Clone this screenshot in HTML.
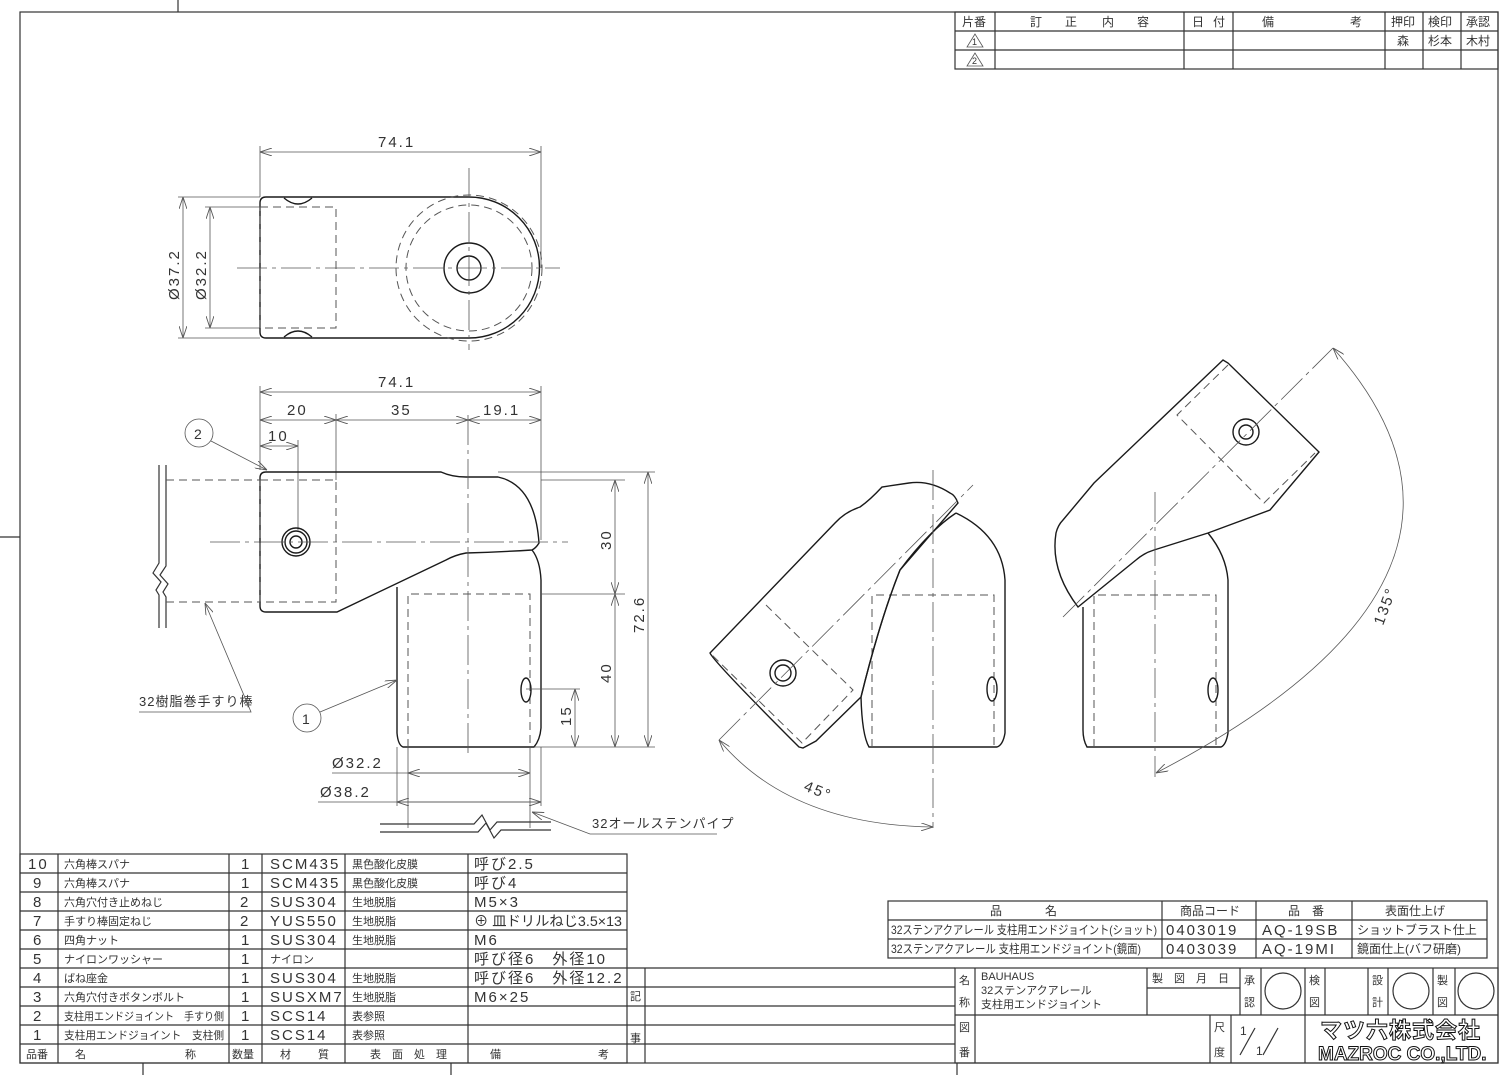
<!DOCTYPE html>
<html><head><meta charset="utf-8"><style>
html,body{margin:0;padding:0;background:#fff;}
svg{display:block;}
text{font-family:"Liberation Sans","Noto Sans CJK JP",sans-serif;fill:#333;}
.o{fill:none;stroke:#1a1a1a;stroke-width:1.4;}
.t{fill:none;stroke:#333;stroke-width:1.2;}
.d{fill:none;stroke:#555;stroke-width:0.8;}
.h{fill:none;stroke:#555;stroke-width:1;stroke-dasharray:8 5;}
.c{fill:none;stroke:#555;stroke-width:0.8;stroke-dasharray:30 5 4 5;}
.n{font-size:15px;letter-spacing:2px;}
.j{font-size:12px;}
</style></head><body>
<svg width="1500" height="1075" viewBox="0 0 1500 1075" xmlns="http://www.w3.org/2000/svg">
<defs>
<marker id="a" viewBox="0 0 12 8" refX="12" refY="4" markerWidth="12" markerHeight="8" orient="auto-start-reverse" markerUnits="userSpaceOnUse"><path d="M0,0 L12,4 L0,8" fill="none" stroke="#555" stroke-width="0.9"/></marker>
</defs>
<!-- frame -->
<rect x="20" y="12" width="1478" height="1051" class="t"/>
<line x1="178" y1="0" x2="178" y2="12" class="t"/>
<line x1="0" y1="537" x2="20" y2="537" class="t"/>
<line x1="143" y1="1063" x2="143" y2="1075" class="t"/>
<line x1="451" y1="1063" x2="451" y2="1075" class="t"/>
<line x1="957" y1="1063" x2="957" y2="1075" class="t"/>

<!-- revision table -->
<g class="t">
<rect x="955" y="12" width="543" height="57"/>
<line x1="955" y1="31" x2="1498" y2="31"/><line x1="955" y1="50" x2="1498" y2="50"/>
<line x1="995" y1="12" x2="995" y2="69"/><line x1="1184" y1="12" x2="1184" y2="69"/>
<line x1="1233" y1="12" x2="1233" y2="69"/><line x1="1385" y1="12" x2="1385" y2="69"/>
<line x1="1423" y1="12" x2="1423" y2="69"/><line x1="1461" y1="12" x2="1461" y2="69"/>
</g>
<g class="j">
<text x="962" y="26">片番</text>
<text x="1030" y="26">訂</text><text x="1065" y="26">正</text><text x="1102" y="26">内</text><text x="1137" y="26">容</text>
<text x="1192" y="26">日</text><text x="1213" y="26">付</text>
<text x="1262" y="26">備</text><text x="1350" y="26">考</text>
<text x="1391" y="26">押印</text><text x="1428" y="26">検印</text><text x="1466" y="26">承認</text>
<text x="1397" y="45">森</text><text x="1428" y="45">杉本</text><text x="1466" y="45">木村</text>
</g>
<path d="M975,34 L967,47 L983,47 Z" class="d"/><text x="972" y="45" font-size="9">1</text>
<path d="M975,53 L967,66 L983,66 Z" class="d"/><text x="972" y="64" font-size="9">2</text>

<!-- TOP VIEW -->
<g>
<line x1="260" y1="152" x2="541" y2="152" class="d" marker-start="url(#a)" marker-end="url(#a)"/>
<line x1="260" y1="146" x2="260" y2="197" class="d"/><line x1="541" y1="146" x2="541" y2="268" class="d"/>
<text x="378" y="147" class="n">74.1</text>
<line x1="183" y1="197" x2="183" y2="338" class="d" marker-start="url(#a)" marker-end="url(#a)"/>
<line x1="178" y1="197" x2="260" y2="197" class="d"/><line x1="178" y1="338" x2="260" y2="338" class="d"/>
<line x1="210" y1="207" x2="210" y2="328" class="d" marker-start="url(#a)" marker-end="url(#a)"/>
<line x1="205" y1="207" x2="260" y2="207" class="d"/><line x1="205" y1="328" x2="260" y2="328" class="d"/>
<text transform="translate(179,300) rotate(-90)" class="n">Ø37.2</text>
<text transform="translate(206,300) rotate(-90)" class="n">Ø32.2</text>
<path d="M266,197 L469,197 A70.5,70.5 0 0 1 469,338 L266,338 Q260,338 260,332 L260,203 Q260,197 266,197 Z" class="o"/>
<circle cx="469" cy="268" r="73" class="h"/>
<circle cx="469" cy="268" r="63" class="h"/>
<circle cx="469" cy="268" r="25" class="o"/>
<circle cx="469" cy="268" r="12" class="o"/>
<rect x="260" y="207" width="76" height="121" class="h"/>
<path d="M284,198 Q298,210 312,198" class="o"/><path d="M284,337 Q298,325 312,337" class="o"/>
<line x1="237" y1="268" x2="560" y2="268" class="c"/>
<line x1="469" y1="168" x2="469" y2="350" class="c"/>
</g>

<!-- FRONT VIEW -->
<g>
<line x1="260" y1="392" x2="541" y2="392" class="d" marker-start="url(#a)" marker-end="url(#a)"/>
<line x1="260" y1="386" x2="260" y2="470" class="d"/><line x1="541" y1="386" x2="541" y2="540" class="d"/>
<text x="378" y="387" class="n">74.1</text>
<line x1="260" y1="420" x2="336" y2="420" class="d" marker-start="url(#a)" marker-end="url(#a)"/>
<line x1="336" y1="420" x2="468" y2="420" class="d" marker-start="url(#a)" marker-end="url(#a)"/>
<line x1="468" y1="420" x2="541" y2="420" class="d" marker-start="url(#a)" marker-end="url(#a)"/>
<line x1="336" y1="414" x2="336" y2="480" class="d"/>
<text x="287" y="415" class="n">20</text><text x="391" y="415" class="n">35</text><text x="483" y="415" class="n">19.1</text>
<line x1="260" y1="446" x2="298" y2="446" class="d" marker-start="url(#a)" marker-end="url(#a)"/>
<line x1="298" y1="440" x2="298" y2="530" class="d"/>
<text x="268" y="441" class="n">10</text>
<path d="M266,472 L441,472 Q452,477 466,477 L498,477 Q535,485 539,543 Q536,548 532,550 Q500,552 466,553 Q455,555 446,560 L337,612 L266,612 Q260,612 260,606 L260,478 Q260,472 266,472 Z" class="o"/>
<rect x="260" y="480" width="76" height="122" class="h"/>
<circle cx="296" cy="542" r="14" class="o"/><circle cx="296" cy="542" r="11" class="o"/><circle cx="296" cy="542" r="6" class="o"/>
<path d="M397,587 L397,733 Q398,745 403,747 L534,747 Q540,740 541,728 L541,580 Q540,560 532,550" class="o"/>
<path d="M408,747 L408,594 L530,594 L530,747" class="h"/>
<ellipse cx="526" cy="690" rx="5" ry="12" class="o"/>
<line x1="210" y1="542" x2="568" y2="542" class="c"/>
<line x1="468" y1="415" x2="468" y2="753" class="c"/>
<path d="M159,465 L159,563 L153,573 L161,582 L156,590 L159,595 L159,628" class="t"/>
<path d="M166,465 L166,566 L160,575 L168,584 L163,592 L166,597 L166,628" class="t"/>
<line x1="166" y1="480" x2="260" y2="480" class="h"/>
<line x1="166" y1="602" x2="260" y2="602" class="h"/>
<line x1="541" y1="480" x2="625" y2="480" class="d"/><line x1="541" y1="594" x2="625" y2="594" class="d"/>
<line x1="498" y1="472" x2="655" y2="472" class="d"/><line x1="534" y1="747" x2="655" y2="747" class="d"/>
<line x1="526" y1="689" x2="580" y2="689" class="d"/>
<line x1="615" y1="480" x2="615" y2="594" class="d" marker-start="url(#a)" marker-end="url(#a)"/>
<line x1="615" y1="594" x2="615" y2="747" class="d" marker-start="url(#a)" marker-end="url(#a)"/>
<line x1="648" y1="472" x2="648" y2="747" class="d" marker-start="url(#a)" marker-end="url(#a)"/>
<line x1="575" y1="689" x2="575" y2="747" class="d" marker-start="url(#a)" marker-end="url(#a)"/>
<text transform="translate(611,550) rotate(-90)" class="n">30</text>
<text transform="translate(611,683) rotate(-90)" class="n">40</text>
<text transform="translate(644,633) rotate(-90)" class="n">72.6</text>
<text transform="translate(571,726) rotate(-90)" class="n">15</text>
<line x1="408" y1="747" x2="408" y2="828" class="d"/><line x1="530" y1="747" x2="530" y2="828" class="d"/>
<line x1="397" y1="747" x2="397" y2="806" class="d"/><line x1="541" y1="747" x2="541" y2="806" class="d"/>
<line x1="332" y1="773" x2="530" y2="773" class="d"/>
<line x1="408" y1="773" x2="530" y2="773" class="d" marker-start="url(#a)" marker-end="url(#a)"/>
<line x1="318" y1="802" x2="541" y2="802" class="d"/>
<line x1="397" y1="802" x2="541" y2="802" class="d" marker-start="url(#a)" marker-end="url(#a)"/>
<text x="332" y="768" class="n">Ø32.2</text>
<text x="320" y="797" class="n">Ø38.2</text>
<path d="M380,824 L474,824 L482,815 L490,830 L497,822 L551,822" class="t"/>
<path d="M380,832 L478,832 L486,823 L494,838 L501,830 L551,830" class="t"/>
<circle cx="199" cy="433" r="14" class="d"/><text x="194" y="439" font-size="14">2</text>
<line x1="211" y1="441" x2="267" y2="470" class="d" marker-end="url(#a)"/>
<circle cx="307" cy="718" r="14" class="d"/><text x="302" y="724" font-size="14">1</text>
<line x1="320" y1="712" x2="397" y2="680" class="d" marker-end="url(#a)"/>
<text x="139" y="706" font-size="13" letter-spacing="1">32樹脂巻手すり棒</text>
<path d="M139,712 L251,712 L205,603" class="d" marker-end="url(#a)"/>
<text x="592" y="828" font-size="13" letter-spacing="1">32オールステンパイプ</text>
<path d="M717,834 L590,834 L532,812" class="d" marker-end="url(#a)"/>
</g>

<!-- MIDDLE VIEW 45 -->
<g>
<path d="M956,513 Q1002,535 1005,580 L1005,733 Q1003,745 997,747 L869,747 Q862,735 861,697 Q880,620 900,570 Q930,530 956,513" class="o"/>
<path d="M872,747 L872,595 L994,595 L994,747" class="h"/>
<ellipse cx="992" cy="689" rx="5" ry="12" class="o"/>
<path d="M799,747 L803,748 L816,741 L861,697 Q880,620 900,570 L958,503 Q955,495 950,493 Q930,480 909,483 L882,487 Q870,500 860,507 Q845,512 835,523 L710,653 Q714,662 799,747 Z" class="o" fill="#fff"/>
<path d="M766,605 L853,690 L802,743 L712,655" class="h"/>
<circle cx="783" cy="673" r="13" class="o"/><circle cx="783" cy="673" r="8" class="o"/>
<line x1="719" y1="740" x2="973" y2="485" class="c"/>
<line x1="933" y1="470" x2="933" y2="828" class="c"/>
<path d="M719,740 Q790,825 933,827" class="d" marker-start="url(#a)" marker-end="url(#a)"/>
<text transform="translate(803,790) rotate(22)" class="n">45°</text>
</g>

<!-- RIGHT VIEW 135 -->
<g>
<path d="M1208,533 Q1226,555 1228,580 L1228,733 Q1226,745 1221,747 L1087,747 Q1083,740 1083,730 L1083,607" class="o"/>
<path d="M1094,747 L1094,595 L1216,595 L1216,747" class="h"/>
<ellipse cx="1213" cy="690" rx="5" ry="12" class="o"/>
<path d="M1078,607 Q1050,570 1056,533 Q1058,525 1063,520 L1094,483 L1223,360 L1228,363 L1319,452 L1270,510 L1208,533 L1154,550 Q1144,553 1136,560 L1078,607 Z" class="o" fill="#fff"/>
<path d="M1228,365 L1177,415 L1264,503 L1315,453" class="h"/>
<circle cx="1246" cy="432" r="13" class="o"/><circle cx="1246" cy="432" r="7" class="o"/>
<line x1="1063" y1="617" x2="1333" y2="348" class="c"/>
<line x1="1155" y1="492" x2="1155" y2="777" class="c"/>
<path d="M1333,348 Q1535,575 1156,773" class="d" marker-start="url(#a)" marker-end="url(#a)"/>
<text transform="translate(1383,626) rotate(-70)" class="n">135°</text>
</g>

<!-- PARTS LIST -->
<g class="t">
<rect x="20" y="854" width="607" height="209"/>
<line x1="20" y1="873" x2="627" y2="873"/><line x1="20" y1="892" x2="627" y2="892"/>
<line x1="20" y1="911" x2="627" y2="911"/><line x1="20" y1="930" x2="627" y2="930"/>
<line x1="20" y1="949" x2="627" y2="949"/><line x1="20" y1="968" x2="955" y2="968"/>
<line x1="20" y1="987" x2="955" y2="987"/><line x1="20" y1="1006" x2="955" y2="1006"/>
<line x1="20" y1="1025" x2="955" y2="1025"/><line x1="20" y1="1044" x2="955" y2="1044"/>
<line x1="58" y1="854" x2="58" y2="1063"/><line x1="229" y1="854" x2="229" y2="1063"/>
<line x1="262" y1="854" x2="262" y2="1063"/><line x1="345" y1="854" x2="345" y2="1063"/>
<line x1="468" y1="854" x2="468" y2="1063"/><line x1="645" y1="968" x2="645" y2="1063"/>
</g>
<g font-size="11">
<text x="28" y="869" class="n">10</text><text x="64" y="868">六角棒スパナ</text><text x="241" y="869" class="n">1</text><text x="270" y="869" class="n">SCM435</text><text x="352" y="868">黒色酸化皮膜</text><text x="474" y="869" class="n">呼び2.5</text>
<text x="33" y="888" class="n">9</text><text x="64" y="887">六角棒スパナ</text><text x="241" y="888" class="n">1</text><text x="270" y="888" class="n">SCM435</text><text x="352" y="887">黒色酸化皮膜</text><text x="474" y="888" class="n">呼び4</text>
<text x="33" y="907" class="n">8</text><text x="64" y="906">六角穴付き止めねじ</text><text x="240" y="907" class="n">2</text><text x="270" y="907" class="n">SUS304</text><text x="352" y="906">生地脱脂</text><text x="474" y="907" class="n">M5×3</text>
<text x="33" y="926" class="n">7</text><text x="64" y="925">手すり棒固定ねじ</text><text x="240" y="926" class="n">2</text><text x="270" y="926" class="n">YUS550</text><text x="352" y="925">生地脱脂</text><text x="474" y="926" font-size="14" textLength="148" lengthAdjust="spacingAndGlyphs">⊕ 皿ドリルねじ3.5×13</text>
<text x="33" y="945" class="n">6</text><text x="64" y="944">四角ナット</text><text x="241" y="945" class="n">1</text><text x="270" y="945" class="n">SUS304</text><text x="352" y="944">生地脱脂</text><text x="474" y="945" class="n">M6</text>
<text x="33" y="964" class="n">5</text><text x="64" y="963">ナイロンワッシャー</text><text x="241" y="964" class="n">1</text><text x="270" y="963">ナイロン</text><text x="474" y="964" class="n">呼び径6　外径10</text>
<text x="33" y="983" class="n">4</text><text x="64" y="982">ばね座金</text><text x="241" y="983" class="n">1</text><text x="270" y="983" class="n">SUS304</text><text x="352" y="982">生地脱脂</text><text x="474" y="983" class="n">呼び径6　外径12.2</text>
<text x="33" y="1002" class="n">3</text><text x="64" y="1001">六角穴付きボタンボルト</text><text x="241" y="1002" class="n">1</text><text x="270" y="1002" class="n">SUSXM7</text><text x="352" y="1001">生地脱脂</text><text x="474" y="1002" class="n">M6×25</text>
<text x="33" y="1021" class="n">2</text><text x="64" y="1020" textLength="160" lengthAdjust="spacingAndGlyphs">支柱用エンドジョイント　手すり側</text><text x="241" y="1021" class="n">1</text><text x="270" y="1021" class="n">SCS14</text><text x="352" y="1020">表参照</text>
<text x="33" y="1040" class="n">1</text><text x="64" y="1039" textLength="160" lengthAdjust="spacingAndGlyphs">支柱用エンドジョイント　支柱側</text><text x="241" y="1040" class="n">1</text><text x="270" y="1040" class="n">SCS14</text><text x="352" y="1039">表参照</text>
<text x="26" y="1058">品番</text><text x="75" y="1058">名</text><text x="185" y="1058">称</text><text x="232" y="1058">数量</text><text x="280" y="1058">材</text><text x="318" y="1058">質</text>
<text x="370" y="1058">表　面　処　理</text><text x="490" y="1058">備</text><text x="598" y="1058">考</text>
<text x="630" y="1000">記</text><text x="630" y="1042">事</text>
</g>

<!-- product table -->
<g class="t">
<rect x="888" y="901" width="599" height="57"/>
<line x1="888" y1="920" x2="1487" y2="920"/><line x1="888" y1="939" x2="1487" y2="939"/>
<line x1="1162" y1="901" x2="1162" y2="958"/><line x1="1256" y1="901" x2="1256" y2="958"/><line x1="1352" y1="901" x2="1352" y2="958"/>
</g>
<g font-size="12">
<text x="990" y="915">品</text><text x="1045" y="915">名</text>
<text x="1180" y="915">商品コード</text><text x="1288" y="915">品　番</text><text x="1385" y="915">表面仕上げ</text>
<text x="891" y="934" textLength="266" lengthAdjust="spacingAndGlyphs">32ステンアクアレール 支柱用エンドジョイント(ショット)</text>
<text x="891" y="953" textLength="250" lengthAdjust="spacingAndGlyphs">32ステンアクアレール 支柱用エンドジョイント(鏡面)</text>
<text x="1166" y="935" class="n">0403019</text><text x="1262" y="935" class="n">AQ-19SB</text><text x="1357" y="934">ショットブラスト仕上</text>
<text x="1166" y="954" class="n">0403039</text><text x="1262" y="954" class="n">AQ-19MI</text><text x="1357" y="953">鏡面仕上(バフ研磨)</text>
</g>

<!-- title block -->
<g class="t">
<rect x="955" y="968" width="543" height="95"/>
<line x1="955" y1="1015" x2="1305" y2="1015"/>
<line x1="975" y1="968" x2="975" y2="1063"/>
<line x1="1147" y1="968" x2="1147" y2="1015"/><line x1="1147" y1="988" x2="1240" y2="988"/>
<line x1="1240" y1="968" x2="1240" y2="1015"/><line x1="1261" y1="968" x2="1261" y2="1015"/>
<line x1="1305" y1="968" x2="1305" y2="1063"/><line x1="1325" y1="968" x2="1325" y2="1015"/>
<line x1="1368" y1="968" x2="1368" y2="1015"/><line x1="1388" y1="968" x2="1388" y2="1015"/>
<line x1="1433" y1="968" x2="1433" y2="1015"/><line x1="1455" y1="968" x2="1455" y2="1015"/>
<line x1="1210" y1="1015" x2="1210" y2="1063"/><line x1="1231" y1="1015" x2="1231" y2="1063"/>
<line x1="1305" y1="1015" x2="1498" y2="1015"/>
<circle cx="1283" cy="991" r="18"/><circle cx="1411" cy="991" r="18"/><circle cx="1476" cy="991" r="18"/>
<line x1="1240" y1="1055" x2="1255" y2="1028"/><line x1="1263" y1="1055" x2="1278" y2="1028"/>
</g>
<g font-size="11">
<text x="959" y="984">名</text><text x="959" y="1006">称</text><text x="959" y="1031">図</text><text x="959" y="1056">番</text>
<text x="981" y="980">BAUHAUS</text><text x="981" y="994">32ステンアクアレール</text><text x="981" y="1008">支柱用エンドジョイント</text>
<text x="1152" y="982">製　図　月　日</text>
<text x="1244" y="984">承</text><text x="1244" y="1006">認</text>
<text x="1309" y="984">検</text><text x="1309" y="1006">図</text>
<text x="1372" y="984">設</text><text x="1372" y="1006">計</text>
<text x="1437" y="984">製</text><text x="1437" y="1006">図</text>
<text x="1214" y="1031">尺</text><text x="1214" y="1056">度</text>
<text x="1240" y="1035" font-size="12">1</text><text x="1256" y="1055" font-size="12">1</text>
</g>
<text x="1320" y="1038" font-size="22" font-weight="bold" style="fill:#fff;stroke:#111;stroke-width:1" letter-spacing="1">マツ六株式会社</text>
<text x="1318" y="1060" font-size="19" font-weight="bold" style="fill:#fff;stroke:#111;stroke-width:1">MAZROC CO.,LTD.</text>
</svg>
</body></html>
